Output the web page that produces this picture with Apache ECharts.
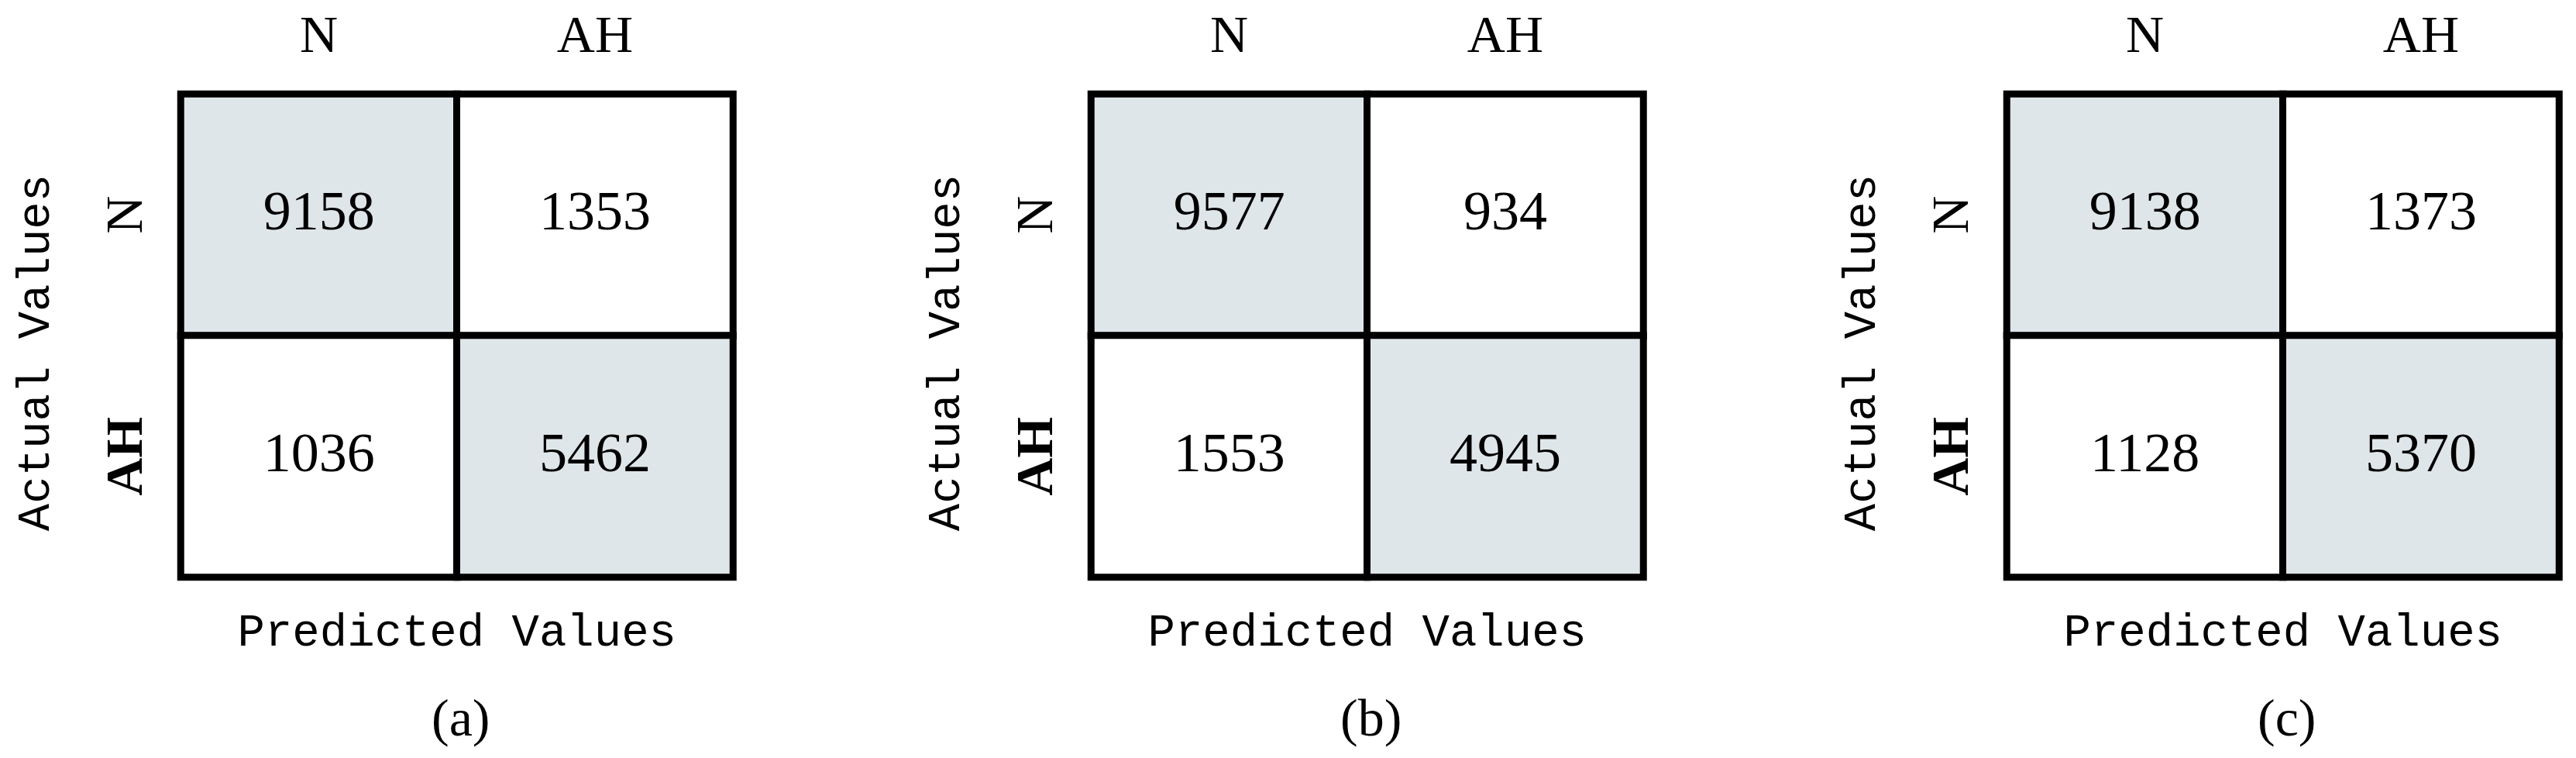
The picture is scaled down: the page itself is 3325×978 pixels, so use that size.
<!DOCTYPE html>
<html>
<head>
<meta charset="utf-8">
<script src="https://cdn.jsdelivr.net/npm/echarts@6/dist/echarts.min.js"></script>
<style>
  html, body { margin: 0; padding: 0; background: #ffffff; }
  #chart { width: 3325px; height: 978px; }
</style>
</head>
<body>
<div id="chart"></div>
<script>
// ---- data ----
const categories = ['N', 'AH'];
const panelLabels = ['(a)', '(b)', '(c)'];
const xAxisTitle = 'Predicted Values';
const yAxisTitle = 'Actual Values';
// rows = actual (N, AH), cols = predicted (N, AH)
const matrixA = [[9158, 1353], [1036, 5462]];
const matrixB = [[9577, 934], [1553, 4945]];
const matrixC = [[9138, 1373], [1128, 5370]];
const matrices = [matrixA, matrixB, matrixC];

// ---- layout / style ----
const gridLefts = [233.5, 1408.5, 2590.5];
const gridTop = 121.5;
const gridW = 712.5;
const gridH = 623;
const diagColor = '#dfe6e9';
const serif = 'Liberation Serif';
const mono = 'Liberation Mono';

const chart = echarts.init(document.getElementById('chart'), null, { renderer: 'canvas' });

const grids = [], xAxes = [], yAxes = [], series = [], titles = [];
matrices.forEach((m, p) => {
  grids.push({ left: gridLefts[p], top: gridTop, width: gridW, height: gridH, containLabel: false });
  // top axis with class labels
  xAxes.push({
    type: 'category', gridIndex: p, data: categories, position: 'top',
    axisLine: { show: false }, axisTick: { show: false }, splitLine: { show: false },
    axisLabel: { fontFamily: serif, fontSize: 68, color: '#000', margin: 38 }
  });
  // bottom axis carrying the "Predicted Values" name
  xAxes.push({
    type: 'category', gridIndex: p, data: categories, position: 'bottom',
    axisLine: { show: false }, axisTick: { show: false }, axisLabel: { show: false },
    name: xAxisTitle, nameLocation: 'middle', nameGap: 43,
    nameTextStyle: { fontFamily: mono, fontSize: 59, color: '#000' }
  });
  yAxes.push({
    type: 'category', gridIndex: p, data: categories, inverse: true,
    axisLine: { show: false }, axisTick: { show: false }, splitLine: { show: false },
    axisLabel: {
      fontFamily: serif, fontSize: 68, color: '#000', rotate: 90, margin: 34,
      formatter: v => v === 'AH' ? '{b|' + v + '}' : '{r|' + v + '}',
      rich: {
        b: { fontFamily: serif, fontSize: 68, fontWeight: 'bold', color: '#000' },
        r: { fontFamily: serif, fontSize: 68, color: '#000' }
      }
    },
    name: yAxisTitle, nameLocation: 'middle', nameGap: 157,
    nameTextStyle: { fontFamily: mono, fontSize: 59, color: '#000', padding: [0, 44, 0, 0] }
  });
  const data = [];
  for (let r = 0; r < 2; r++) {
    for (let c = 0; c < 2; c++) {
      data.push({
        value: [c, r, m[r][c]],
        itemStyle: { color: r === c ? diagColor : '#ffffff' }
      });
    }
  }
  series.push({
    type: 'heatmap', xAxisIndex: p * 2, yAxisIndex: p, data: data,
    itemStyle: { borderColor: '#000', borderWidth: 9 },
    label: {
      show: true, formatter: d => String(d.value[2]),
      fontFamily: serif, fontSize: 72, color: '#000'
    },
    emphasis: { disabled: true }
  });
  titles.push({
    text: panelLabels[p],
    left: gridLefts[p] + gridW / 2, top: 892, textAlign: 'center',
    textStyle: { fontFamily: serif, fontSize: 68, fontWeight: 'normal', color: '#000' }
  });
});

chart.setOption({
  animation: false,
  backgroundColor: '#ffffff',
  title: titles,
  grid: grids,
  xAxis: xAxes,
  yAxis: yAxes,
  series: series
});
</script>
</body>
</html>
